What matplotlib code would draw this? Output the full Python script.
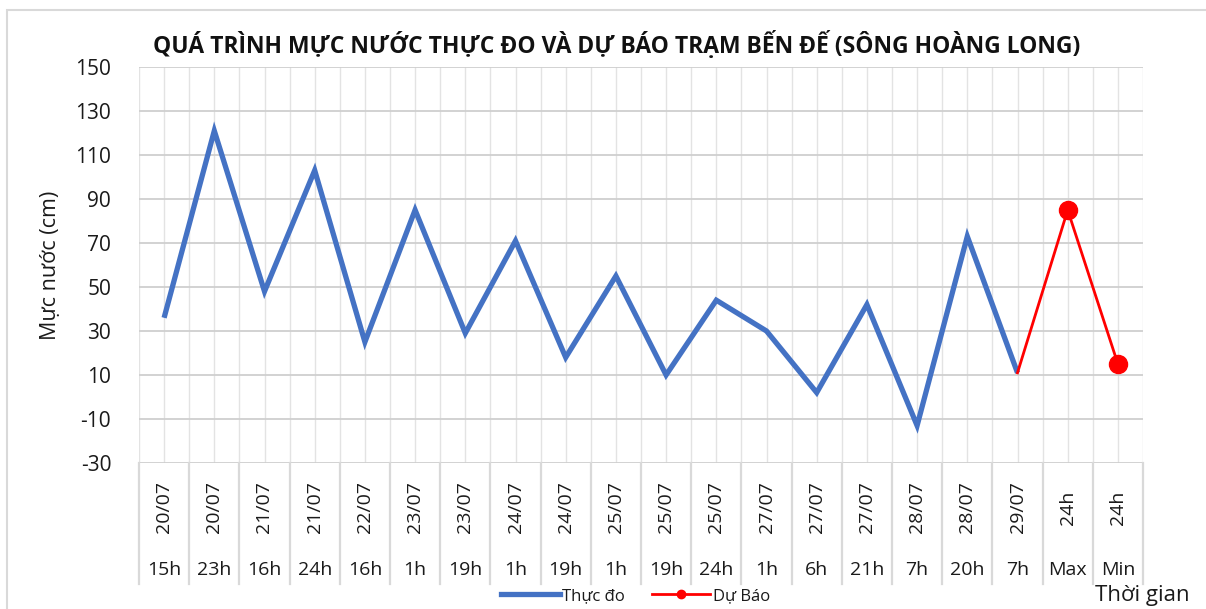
import numpy as np
import matplotlib.pyplot as plt
from matplotlib.lines import Line2D
from matplotlib.patches import Rectangle

plt.rcParams['font.family'] = ['Open Sans', 'DejaVu Sans']
plt.rcParams['axes.unicode_minus'] = False

# Data
dates = ["20/07", "20/07", "21/07", "21/07", "22/07", "23/07", "23/07", "24/07", "24/07",
         "25/07", "25/07", "25/07", "27/07", "27/07", "27/07", "28/07", "28/07", "29/07",
         "24h", "24h"]
hours = ["15h", "23h", "16h", "24h", "16h", "1h", "19h", "1h", "19h",
         "1h", "19h", "24h", "1h", "6h", "21h", "7h", "20h", "7h",
         "Max", "Min"]
observed = [36, 121, 48, 103, 25, 85, 29, 71, 18, 55, 10, 44, 30, 2, 42, -13, 73, 11]
forecast = [11, 85, 15]   # starts at the last observed point

BLUE = "#4472C4"
RED = "#FF0000"
TXT = "#1a1a1a"

fig = plt.figure(figsize=(12.06, 6.09), dpi=100)
ax = fig.add_axes([139 / 1206, 1 - 463 / 609, (1143 - 139) / 1206, (463 - 67) / 609])

n = len(hours)
x = np.arange(n)
ax.set_xlim(-0.5, n - 0.5)
ax.set_ylim(-30, 150)
ax.set_yticks(np.arange(-30, 151, 20))

# gridlines: horizontal darker, vertical at category centres and boundaries
ax.set_xticks(np.arange(-0.5, n, 1.0))
ax.set_xticks(x, minor=True)
ax.grid(axis='y', color='#cfcfcf', linewidth=1.3)
ax.grid(axis='x', which='both', color='#e3e3e3', linewidth=1.0)
ax.set_axisbelow(True)
ax.tick_params(axis='x', which='both', length=0, labelbottom=False)
ax.tick_params(axis='y', length=0, labelsize=15, pad=20, colors=TXT)
for s in ax.spines.values():
    s.set_visible(False)

ax.plot(x[:len(observed)], observed, color=BLUE, linewidth=3.8, solid_capstyle='butt',
        solid_joinstyle='miter', zorder=3)
fx = x[len(observed) - 1:]
ax.plot(fx, forecast, color=RED, linewidth=2.0, zorder=4)
ax.plot(fx[1:], forecast[1:], 'o', color=RED, markersize=13, zorder=5)

# multi-level category labels below the plot
trans = ax.get_xaxis_transform()
for i in range(n):
    ax.text(x[i], -0.112, dates[i], transform=trans, rotation=90, ha='center', va='center',
            fontsize=14, color=TXT)
    ax.text(x[i], -0.27, hours[i], transform=trans, ha='center', va='center',
            fontsize=14, color=TXT)
for b in np.arange(-0.5, n, 1.0):
    ax.plot([b, b], [0, -0.305], transform=trans, color='#d9d9d9', linewidth=1.6,
            clip_on=False)

ax.set_ylabel("Mực nước (cm)", fontsize=15.5, color=TXT)
ax.yaxis.set_label_coords(-0.078, 0.5)

fig.text(0.511, 1 - 45 / 609, "QUÁ TRÌNH MỰC NƯỚC THỰC ĐO VÀ DỰ BÁO TRẠM BẾN ĐẾ (SÔNG HOÀNG LONG)",
         ha='center', va='center', fontsize=16.5, fontweight='bold', color='#111111')
fig.text(1142 / 1206, 1 - 595 / 609, "Thời gian", ha='center', va='center', fontsize=16,
         color=TXT)

handles = [Line2D([], [], color=BLUE, linewidth=3.8),
           Line2D([], [], color=RED, linewidth=2.0, marker='o', markersize=6)]
fig.legend(handles, ["Thực đo", "Dự Báo"], loc='center', bbox_to_anchor=(0.527, 1 - 596 / 609),
           ncol=2, frameon=False, fontsize=12, handlelength=3.5, handletextpad=0.15,
           columnspacing=1.6, labelcolor=TXT)

# outer chart border
fig.add_artist(Rectangle((7 / 1206, -0.01), 1.0, 1 - 10 / 609 + 0.01, transform=fig.transFigure,
                         fill=False, edgecolor='#d9d9d9', linewidth=1.5))

fig.savefig("out.png", dpi=100)
